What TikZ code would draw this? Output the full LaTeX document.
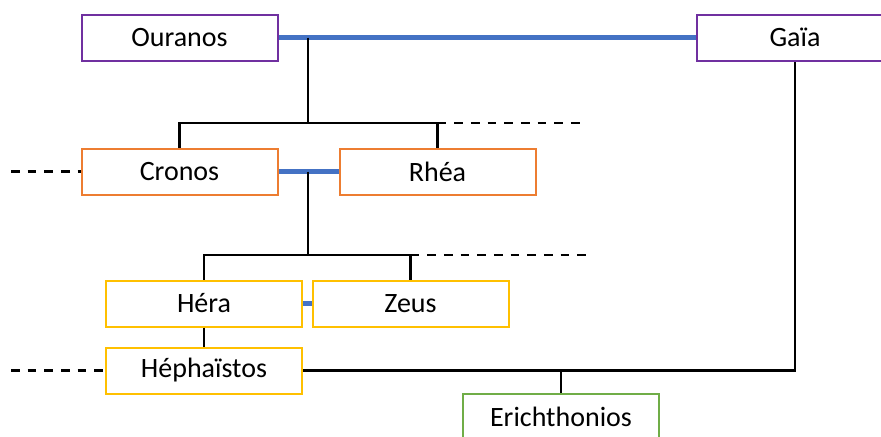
\documentclass[tikz,border=0pt]{standalone}
\usepackage{fontspec}
\setmainfont{Carlito}
\definecolor{cpurple}{HTML}{7030A0}
\definecolor{corange}{HTML}{ED7D31}
\definecolor{cgold}{HTML}{FFC000}
\definecolor{cgreen}{HTML}{70AD47}
\definecolor{cblue}{HTML}{4472C4}
\tikzset{
  person/.style={draw, line width=1.5pt, fill=white, minimum width=147pt, minimum height=34.5pt, inner sep=0pt, font=\fontsize{21}{25}\selectfont},
  gen1/.style={person, draw=cpurple},
  gen2/.style={person, draw=corange},
  gen3/.style={person, draw=cgold},
  gen4/.style={person, draw=cgreen},
  marriage/.style={draw=cblue, line width=3.2pt},
  kin/.style={draw=black, line width=1.6pt},
  unknown/.style={draw=black, line width=1.6pt, dash pattern=on 6.5pt off 6pt},
}
\begin{document}
\begin{tikzpicture}[x=0.75pt, y=-0.75pt]
\useasboundingbox (0,0) rectangle (881,436);
\clip (0,0) rectangle (881,436);
\fill[white] (0,0) rectangle (881,436);

\coordinate (m1) at (308,37.5);
\coordinate (j1) at (308,123);
\coordinate (d1) at (583,123);
\coordinate (m2) at (308,171.5);
\coordinate (j2) at (308,255);
\coordinate (d2) at (589,255);
\coordinate (l1) at (11,171.5);
\coordinate (l2) at (11,370.5);

% lines first (under boxes)
\path[marriage] (179.5,37.5) -- (795,37.5);
\node[gen1] (Ouranos) at (179.5,37.5) {Ouranos};
\node[gen1] (Gaia) at (795,37.5) {Gaïa};
\node[gen2] (Cronos) at (179.5,171.5) {Cronos};
\node[gen2] (Rhea) at (437.5,171.5) {Rhéa};
\node[gen3] (Hera) at (204,303.5) {Héra};
\node[gen3] (Zeus) at (410.5,303.5) {Zeus};
\node[gen3] (Hephaistos) at (204,370.5) {Héphaïstos};
\node[gen4] (Erichthonios) at (561,417) {Erichthonios};

\path[marriage] (Ouranos.east) -- (Gaia.west);
\path[kin] (m1) -- (j1);
\path[kin] (Cronos.north) |- (Rhea.north |- j1) -- (Rhea.north);
\path[unknown] (Rhea.north |- j1) -- (d1);

\path[marriage] (Cronos.east) -- (Rhea.west);
\path[kin] (m2) -- (j2);
\path[kin] (Hera.north) |- (Zeus.north |- j2) -- (Zeus.north);
\path[unknown] (Zeus.north |- j2) -- (d2);

\path[marriage] (Hera.east) -- (Zeus.west);
\path[kin] (Hera.south) -- (Hephaistos.north);
\path[unknown] (l1) -- (Cronos.west);
\path[unknown] (l2) -- (Hephaistos.west);

\path[kin] (Hephaistos.east) -| (Gaia.south);
\path[kin] (Erichthonios.north) -- (Erichthonios.north |- Hephaistos.east);
\end{tikzpicture}
\end{document}
